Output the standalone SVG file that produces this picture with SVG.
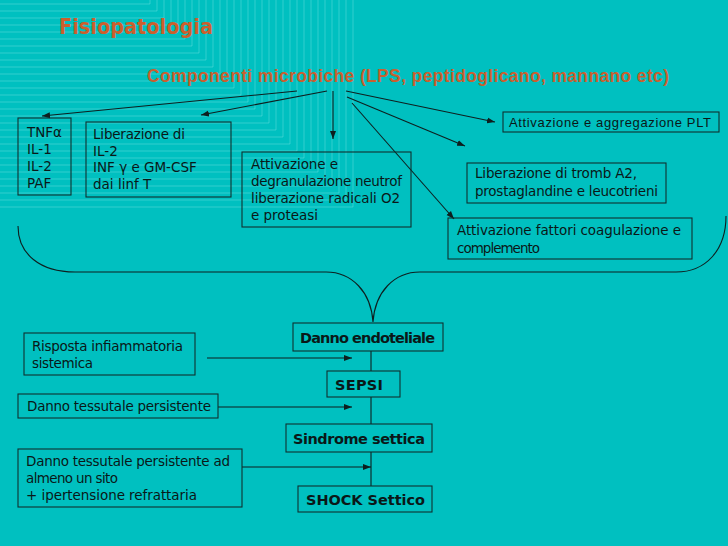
<svg xmlns="http://www.w3.org/2000/svg" width="728" height="546" viewBox="0 0 728 546">
<defs>
<marker id="ah" markerUnits="userSpaceOnUse" markerWidth="9" markerHeight="7" refX="8" refY="3.5" orient="auto">
<path d="M0,0.5 L8,3.5 L0,6.5 z" fill="#0d1f1f"/>
</marker>
</defs>
<style>
.bg{fill:#00c0c0}
.deco{stroke:#8fe8e8;stroke-width:0.8;fill:none;opacity:0.45}
.box{fill:none;stroke:#10302f;stroke-width:1.1}
.t{font-family:"DejaVu Sans","Liberation Sans",sans-serif;font-size:13.5px;fill:#0a1818}
.tb{font-family:"DejaVu Sans","Liberation Sans",sans-serif;font-size:14.5px;font-weight:bold;fill:#0a1818}
.ta{font-family:"Liberation Sans",Arial,sans-serif;font-size:13px;fill:#0a1818}
.title{font-family:"DejaVu Sans","Liberation Sans",sans-serif;font-size:21px;font-weight:bold;fill:#cc5f2c}
.sub{font-family:"Liberation Sans",Arial,sans-serif;font-size:17.5px;font-weight:bold;fill:#c8602f}
.ln{stroke:#0d1f1f;stroke-width:1.1;fill:none}
</style>
<rect class="bg" x="0" y="0" width="728" height="546"/>
<g id="decoration" class="deco">
<path d="M0,4H150V0M0,11H157V0M0,18H164V0M0,25H171V0M0,32H178V0M0,39H185V0M0,46H192V0M0,53H199V0M0,60H206V0M0,67H213V0M0,74H220V0M0,81H227V0M0,88H234V0M0,95H241V0M0,102H248V0M0,109H255V0M0,116H262V0M0,123H269V0M0,130H276V0M0,137H283V0M0,144H290V0M0,151H297V0M0,158H304V0M0,165H311V0M0,172H318V0M0,179H325V0M0,186H332V0M0,193H339V0M0,200H346V0M0,207H353V0"/>
</g>
<text class="title" x="59" y="34" textLength="154" lengthAdjust="spacingAndGlyphs">Fisiopatologia</text>
<text class="sub" x="147" y="82" textLength="522">Componenti microbiche (LPS, peptidoglicano, mannano etc)</text>
<g id="connectors">
<line class="ln" x1="297" y1="91" x2="42" y2="116" marker-end="url(#ah)"/>
<line class="ln" x1="327" y1="91" x2="201" y2="115" marker-end="url(#ah)"/>
<line class="ln" x1="333" y1="91" x2="333" y2="139" marker-end="url(#ah)"/>
<line class="ln" x1="346" y1="91" x2="495" y2="122" marker-end="url(#ah)"/>
<line class="ln" x1="347" y1="97" x2="465" y2="146" marker-end="url(#ah)"/>
<line class="ln" x1="352" y1="103" x2="454" y2="219" marker-end="url(#ah)"/>
<path class="ln" d="M18,226 C18,254 40,272 75,272 L326,272 C352,272 371,292 373,322 C375,292 394,272 420,272 L676,272 C706,272 726,250 726,216"/>
<line class="ln" x1="371" y1="351" x2="371" y2="371"/>
<line class="ln" x1="371" y1="397" x2="371" y2="424"/>
<line class="ln" x1="371" y1="452" x2="371" y2="486"/>
<line class="ln" x1="207" y1="358" x2="352" y2="358" marker-end="url(#ah)"/>
<line class="ln" x1="218" y1="407" x2="352" y2="407" marker-end="url(#ah)"/>
<line class="ln" x1="242" y1="467" x2="371" y2="467" marker-end="url(#ah)"/>
</g>
<g id="n-tnf">
<rect class="box" x="18" y="118" width="53" height="77"/>
<text class="t" x="27" y="137">TNFα</text>
<text class="t" x="27" y="154">IL-1</text>
<text class="t" x="27" y="171">IL-2</text>
<text class="t" x="27" y="188">PAF</text>
</g>
<g id="n-liberazione">
<rect class="box" x="86" y="122" width="145" height="75"/>
<text class="t" x="93" y="139" textLength="92">Liberazione di</text>
<text class="t" x="93" y="156">IL-2</text>
<text class="t" x="93" y="172">INF γ e GM-CSF</text>
<text class="t" x="93" y="189">dai linf T</text>
</g>
<g id="n-neutrof">
<rect class="box" x="242" y="152" width="169" height="75"/>
<text class="t" x="251" y="169" textLength="87">Attivazione e</text>
<text class="t" x="251" y="186" textLength="151">degranulazione neutrof</text>
<text class="t" x="251" y="203" textLength="149">liberazione radicali O2</text>
<text class="t" x="251" y="220" textLength="67">e proteasi</text>
</g>
<g id="n-plt">
<rect class="box" x="503" y="112" width="216" height="20"/>
<text class="ta" x="509" y="127" textLength="202">Attivazione e aggregazione PLT</text>
</g>
<g id="n-tromb">
<rect class="box" x="467" y="163" width="199" height="40"/>
<text class="t" x="475" y="178" textLength="162">Liberazione di tromb A2,</text>
<text class="t" x="475" y="196" textLength="183">prostaglandine e leucotrieni</text>
</g>
<g id="n-coag">
<rect class="box" x="448" y="218" width="244" height="41"/>
<text class="t" x="457" y="235" textLength="224">Attivazione fattori coagulazione e</text>
<text class="t" x="457" y="253" textLength="83">complemento</text>
</g>
<g id="n-risposta">
<rect class="box" x="24" y="333" width="171" height="42"/>
<text class="t" x="32" y="351" textLength="151">Risposta infiammatoria</text>
<text class="t" x="32" y="368" textLength="61">sistemica</text>
</g>
<g id="n-danno1">
<rect class="box" x="18" y="394" width="200" height="24"/>
<text class="t" x="27" y="411" textLength="184">Danno tessutale persistente</text>
</g>
<g id="n-danno2">
<rect class="box" x="18" y="449" width="224" height="58"/>
<text class="t" x="26" y="466" textLength="204">Danno tessutale persistente ad</text>
<text class="t" x="26" y="483" textLength="92">almeno un sito</text>
<text class="t" x="26" y="500" textLength="171">+ ipertensione refrattaria</text>
</g>
<g id="n-endoteliale">
<rect class="box" x="293" y="323" width="150" height="28"/>
<text class="tb" x="300" y="343" textLength="135">Danno endoteliale</text>
</g>
<g id="n-sepsi">
<rect class="box" x="327" y="371" width="73" height="26"/>
<text class="tb" x="335" y="390" textLength="48">SEPSI</text>
</g>
<g id="n-sindrome">
<rect class="box" x="286" y="424" width="146" height="28"/>
<text class="tb" x="293" y="444" textLength="132">Sindrome settica</text>
</g>
<g id="n-shock">
<rect class="box" x="298" y="486" width="134" height="26"/>
<text class="tb" x="306" y="505" textLength="119">SHOCK Settico</text>
</g>
</svg>
